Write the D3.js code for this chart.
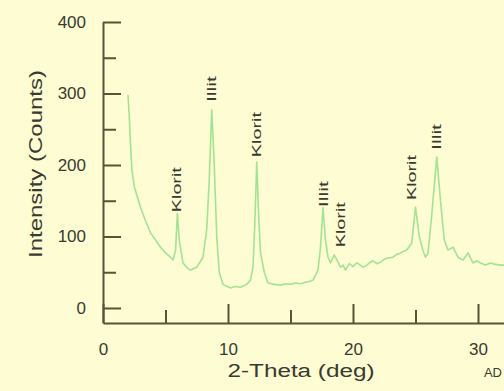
<!DOCTYPE html>
<html lang="en">
<head>
<meta charset="UTF-8">
<title>XRD pattern</title>
<script src="https://d3js.org/d3.v7.min.js"></script>
<style>
html, body { margin: 0; padding: 0; }
body { background-color: #fdfcd2; width: 504px; height: 391px; overflow: hidden; }
svg { display: block; }
text { font-family: "Liberation Sans", Arial, sans-serif; fill: #3a3a30; }
.axis path, .axis line { stroke: #55553a; stroke-width: 2; }
.axis text { font-size: 17px; fill: #3a3a30; }
</style>
</head>
<body>
<script>
// 2-theta (deg) and intensity (counts)
const theta = [2.0, 2.1, 2.2, 2.3, 2.5, 2.8, 3.0, 3.4, 3.8, 4.2, 4.6, 5.0, 5.4, 5.6, 5.8, 5.95, 6.1, 6.4, 6.8, 7.0,
    7.5, 8.0, 8.3, 8.5, 8.7, 8.9, 9.1, 9.3, 9.6, 10.2, 10.6, 11.0, 11.5, 11.8, 12.0, 12.15, 12.3, 12.45, 12.6, 12.9,
    13.2, 13.7, 14.2, 14.6, 15.0, 15.4, 15.8, 16.2, 16.5, 16.8, 17.2, 17.4, 17.6, 17.8, 18.0, 18.2, 18.5, 18.7, 19.0, 19.2,
    19.4, 19.7, 20.0, 20.3, 20.5, 20.8, 21.1, 21.4, 21.6, 21.9, 22.2, 22.5, 22.8, 23.2, 23.5, 23.7, 24.0, 24.3, 24.7, 25.0,
    25.3, 25.6, 25.8, 26.0, 26.3, 26.7, 27.0, 27.3, 27.6, 28.0, 28.4, 28.8, 29.2, 29.6, 29.9, 30.2, 30.6, 31.0, 31.4, 31.8, 32.1];
const counts = [298, 268, 230, 195, 170, 152, 141, 122, 105, 95, 85, 77, 71, 67, 80, 132, 95, 63, 55, 53,
    57, 71, 110, 180, 277, 200, 100, 50, 33, 28, 30, 29, 33, 39, 57, 120, 204, 130, 77, 50,
    35, 33, 32, 34, 33, 35, 34, 36, 37, 39, 53, 85, 140, 95, 71, 63, 74, 68, 57, 60,
    53, 62, 58, 63, 61, 57, 60, 64, 66, 62, 64, 68, 70, 71, 75, 76, 79, 81, 91, 141,
    100, 80, 71, 77, 130, 211, 150, 95, 81, 85, 71, 67, 77, 63, 66, 63, 60, 63, 61, 60, 60];

// peak labels: mineral, 2-theta, intensity where the label starts
const peakNames = ["Klorit", "Illit", "Klorit", "Illit", "Klorit", "Klorit", "Illit"];
const peakTheta = [5.9, 8.7, 12.3, 17.6, 19.0, 24.7, 26.7];
const peakLabelAt = [134, 288, 211, 141, 85, 151, 221];

const xTicks = [0, 10, 20, 30];
const xMinor = [5, 15, 25];
const yTicks = [0, 100, 200, 300, 400];
const yMinor = [50, 150, 250, 350];

const w = 504;
const h = 391;

const svg = d3.select('body').append('svg').attr('width', w).attr('height', h);

const xScale = d3.scaleLinear().domain([0, 32.08]).range([103, 504]);
const yScale = d3.scaleLinear().domain([-21, 400]).range([323, 22]);

// y axis, ticks pointing into the plot
svg.append('g').attr('class', 'axis').attr('transform', 'translate(103,0)')
    .call(d3.axisLeft(yScale).tickValues(yTicks).tickSizeInner(-18).tickSizeOuter(0).tickPadding(17));
svg.append('g').attr('class', 'axis').attr('transform', 'translate(103,0)')
    .call(d3.axisLeft(yScale).tickValues(yMinor).tickSizeInner(-13).tickSizeOuter(0).tickFormat(''))
    .select('.domain').remove();

// x axis
svg.append('g').attr('class', 'axis').attr('transform', 'translate(0,323)')
    .call(d3.axisBottom(xScale).tickValues(xTicks).tickSizeInner(-19).tickSizeOuter(0).tickPadding(20));
svg.append('g').attr('class', 'axis').attr('transform', 'translate(0,323)')
    .call(d3.axisBottom(xScale).tickValues(xMinor).tickSizeInner(-13).tickSizeOuter(0).tickFormat(''))
    .select('.domain').remove();

svg.selectAll('.axis .domain').attr('stroke-width', 2.5);

// pattern
const points = theta.map((t, i) => [t, counts[i]]);
const line = d3.line().x(d => xScale(d[0])).y(d => yScale(d[1]));
svg.append('path').datum(points)
    .attr('d', line)
    .attr('fill', 'none')
    .attr('stroke', '#a3e394')
    .attr('stroke-width', 1.6)
    .attr('stroke-linejoin', 'round');

// peak labels, rotated
svg.selectAll('.peak').data(peakNames).enter().append('text')
    .attr('class', 'peak')
    .attr('transform', (d, i) => 'translate(' + (xScale(peakTheta[i]) + 4.5) + ',' + yScale(peakLabelAt[i]) + ') rotate(-90)')
    .attr('textLength', d => d === 'Klorit' ? 45 : 26)
    .attr('lengthAdjust', 'spacingAndGlyphs')
    .style('font-size', '13px')
    .text(d => d);

// axis titles
svg.append('text')
    .attr('transform', 'translate(42,164) rotate(-90)')
    .attr('text-anchor', 'middle')
    .attr('textLength', 188)
    .attr('lengthAdjust', 'spacingAndGlyphs')
    .style('font-size', '18px')
    .text('Intensity (Counts)');

svg.append('text')
    .attr('x', 301).attr('y', 377)
    .attr('text-anchor', 'middle')
    .attr('textLength', 147)
    .attr('lengthAdjust', 'spacingAndGlyphs')
    .style('font-size', '18px')
    .text('2-Theta (deg)');

svg.append('text')
    .attr('x', 502).attr('y', 377)
    .attr('text-anchor', 'end')
    .style('font-size', '13px')
    .text('AD');
</script>
</body>
</html>
